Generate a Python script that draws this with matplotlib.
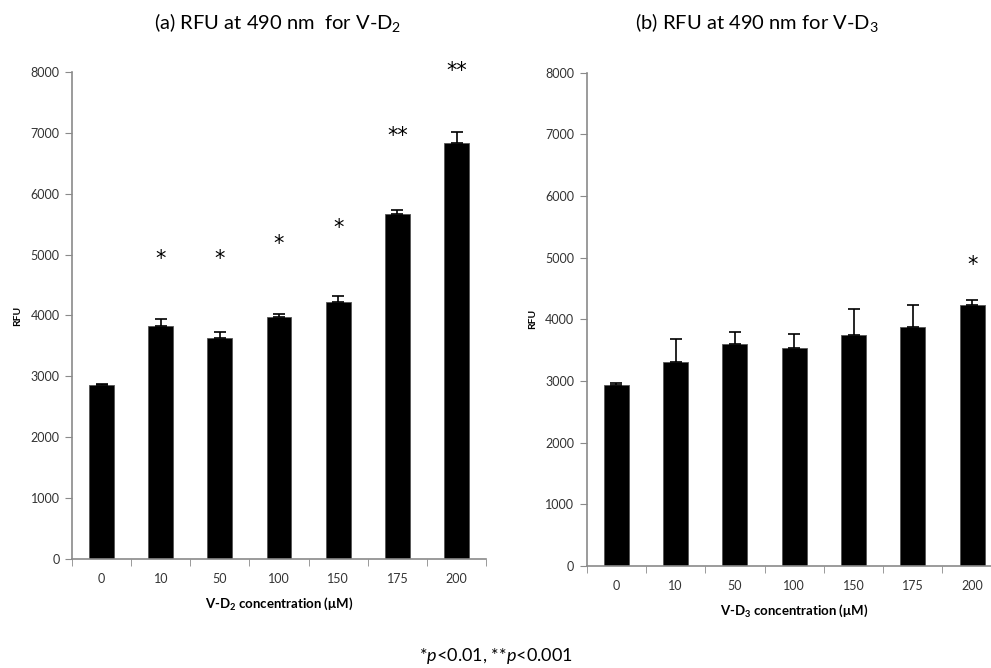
import numpy as np
import matplotlib.pyplot as plt

plt.rcParams['font.family'] = ['Lato', 'DejaVu Sans']
plt.rcParams['mathtext.fontset'] = 'custom'
plt.rcParams['mathtext.rm'] = 'Lato'
plt.rcParams['mathtext.it'] = 'Lato:italic'
plt.rcParams['mathtext.bf'] = 'Lato:bold'

# concentrations (µM) shared by both panels
conc = ['0', '10', '50', '100', '150', '175', '200']

# V-D2: mean RFU, upper error, significance marks and where they sit
d2_mean = [2850, 3820, 3630, 3975, 4215, 5670, 6830]
d2_err = [20, 130, 100, 50, 100, 70, 190]
d2_sig = ['', '*', '*', '*', '*', '**', '**']
d2_sig_y = [0, 4920, 4920, 5180, 5440, 6950, 8010]

# V-D3
d3_mean = [2930, 3310, 3600, 3540, 3745, 3870, 4230]
d3_err = [35, 365, 200, 230, 425, 370, 85]
d3_sig = ['', '', '', '', '', '', '*']
d3_sig_y = [0, 0, 0, 0, 0, 0, 4880]

grey = '#8a8a8a'

fig = plt.figure(figsize=(9.91, 6.68), dpi=100)
axa = fig.add_axes([0.0727, 0.1632, 0.4178, 0.729])
axb = fig.add_axes([0.592, 0.1527, 0.4189, 0.7385])


def draw(ax, mean, err, sig, sig_y, title, xlabel, title_x):
    x = np.arange(len(conc))
    ax.bar(x, mean, width=0.42, color='black', edgecolor='#555555', linewidth=0.6)
    ax.errorbar(x, mean, yerr=[np.zeros(len(err)), err], fmt='none',
                ecolor='black', elinewidth=1.2, capsize=4, capthick=1.2)
    for xi, s, sy in zip(x, sig, sig_y):
        if s:
            ax.text(xi, sy, s, ha='center', va='center', fontsize=15,
                    family='DejaVu Sans', clip_on=False)
    ax.set_xlim(-0.5, len(conc) - 0.5)
    ax.set_ylim(0, 8000)
    ax.set_yticks(np.arange(0, 8001, 1000))
    ax.set_xticks(x)
    ax.set_xticklabels(conc)
    ax.set_xticks(np.arange(-0.5, len(conc)), minor=True)
    ax.tick_params(axis='x', which='major', length=0, pad=10, labelsize=9, labelcolor='#333333')
    ax.tick_params(axis='x', which='minor', length=5, color=grey, direction='out')
    ax.tick_params(axis='y', length=5, color=grey, labelsize=9, labelcolor='#333333', pad=4)
    for side in ['top', 'right']:
        ax.spines[side].set_visible(False)
    for side in ['left', 'bottom']:
        ax.spines[side].set_color(grey)
        ax.spines[side].set_linewidth(1.2)
    ax.set_ylabel('RFU', fontsize=7.5, fontweight='bold', labelpad=6)
    ax.set_xlabel(xlabel, fontsize=9.5, fontweight='bold', labelpad=8)
    fig.text(title_x, 1 - 22 / 668, title, ha='center', va='center', fontsize=14.5)


draw(axa, d2_mean, d2_err, d2_sig, d2_sig_y,
     r'(a) RFU at 490 nm  for V-D$_2$', r'V-D$_\mathbf{2}$ concentration (μM)', 278 / 991)
draw(axb, d3_mean, d3_err, d3_sig, d3_sig_y,
     r'(b) RFU at 490 nm for V-D$_3$', r'V-D$_\mathbf{3}$ concentration (μM)', 757 / 991)

fig.text(0.5, 1 - 656 / 668, r'*$p$<0.01, **$p$<0.001', ha='center', va='center', fontsize=13)

fig.savefig('out.png', dpi=100)
